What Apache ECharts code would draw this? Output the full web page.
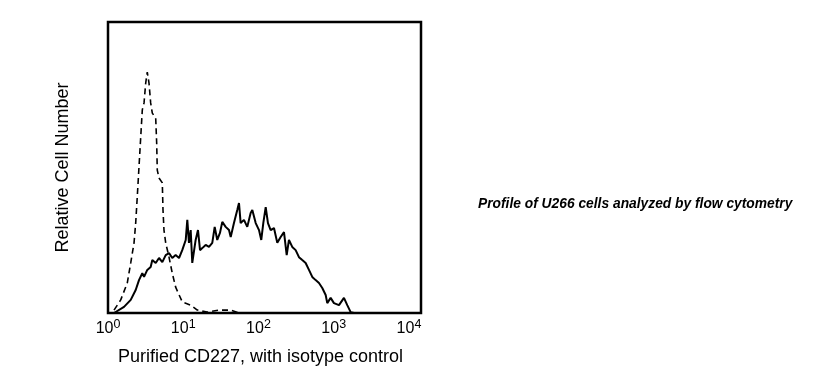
<!DOCTYPE html>
<html>
<head>
<meta charset="utf-8">
<script src="https://cdn.jsdelivr.net/npm/echarts@6/dist/echarts.min.js"></script>
<style>html,body{margin:0;padding:0;background:#fff;}#c{width:831px;height:382px;}</style>
</head>
<body>
<div id="c"></div>
<script>
// x values are log10 of fluorescence intensity; y = relative cell number
var isoX = [0.08,0.169,0.256,0.302,0.346,0.368,0.389,0.412,0.435,0.456,0.479,0.501,0.522,0.545,0.567,0.589,0.634,0.647,0.655,0.678,0.722,0.731,0.744,0.767,0.811,0.854,0.899,0.987,1.099,1.187,1.316,1.475,1.631,1.74];
var isoY = [1.0,4.5,10.3,17.2,24.1,30.9,39.9,50.2,60.5,69.8,72.2,79.0,82.8,79.0,72.2,68.7,67.0,58.4,49.1,46.4,44.7,35.4,28.5,24.1,19.2,13.7,8.9,3.8,2.7,1.0,0.3,1.0,1.0,0];
var cdX = [0.08,0.213,0.302,0.368,0.412,0.456,0.479,0.522,0.567,0.589,0.634,0.678,0.722,0.767,0.811,0.854,0.899,0.944,0.987,1.033,1.054,1.076,1.099,1.120,1.165,1.196,1.223,1.253,1.298,1.342,1.386,1.418,1.452,1.488,1.519,1.564,1.608,1.631,1.674,1.718,1.741,1.763,1.807,1.851,1.896,1.918,1.963,2.007,2.037,2.064,2.096,2.126,2.162,2.206,2.250,2.295,2.339,2.375,2.405,2.449,2.494,2.538,2.582,2.627,2.671,2.715,2.760,2.804,2.848,2.893,2.914,2.959,3.003,3.070,3.136,3.180,3.225,3.269];
var cdY = [0,2.1,4.5,7.9,11.3,13.7,12.4,14.8,15.8,18.2,17.2,18.9,17.5,19.9,20.6,18.9,19.9,18.9,21.6,25.1,32.0,24.1,28.5,17.2,25.1,28.5,21.6,22.3,23.4,22.7,24.1,29.6,25.1,27.5,31.3,29.6,28.5,26.1,30.9,35.4,37.8,30.9,32.0,29.6,34.4,35.4,30.9,28.5,25.1,30.9,36.4,30.9,28.5,29.2,24.1,26.1,27.8,19.9,25.1,22.7,21.6,19.2,18.2,17.2,14.8,12.4,11.3,10.3,8.6,6.2,3.4,5.2,3.4,2.7,5.2,2.7,0.3,0];
var tickExponents = [0,1,2,3,4];

function pairs(xs, ys){ return xs.map(function(x,i){ return [x, ys[i]]; }); }

var chart = echarts.init(document.getElementById('c'), null, {renderer:'canvas'});
chart.setOption({
  animation:false,
  backgroundColor:'#fff',
  grid:{left:108, right:410, top:22, bottom:69, show:true, borderColor:'#000', borderWidth:2.5, backgroundColor:'transparent'},
  xAxis:{
    type:'value', min:0, max:4.16, interval:1,
    axisLine:{show:false}, axisTick:{show:false}, splitLine:{show:false},
    axisLabel:{
      margin:5,
      formatter:function(v){
        var r = Math.round(v);
        if (Math.abs(v-r)>1e-6 || tickExponents.indexOf(r)<0) return '';
        return '{b|10}{s|'+r+'}';
      },
      rich:{
        b:{fontFamily:'Liberation Sans, Arial', fontSize:16, color:'#000'},
        s:{fontFamily:'Liberation Sans, Arial', fontSize:12.5, color:'#000', padding:[0,0,8,0]}
      }
    },
    name:'Purified CD227, with isotype control', nameLocation:'middle', nameGap:35,
    nameTextStyle:{fontFamily:'Liberation Sans, Arial', fontSize:18, color:'#000', padding:[0,8,0,0]}
  },
  yAxis:{
    type:'value', min:0, max:100,
    axisLine:{show:false}, axisTick:{show:false}, splitLine:{show:false}, axisLabel:{show:false},
    name:'Relative Cell Number', nameLocation:'middle', nameGap:36,
    nameTextStyle:{fontFamily:'Liberation Sans, Arial', fontSize:18, color:'#000'}
  },
  graphic:[{
    type:'text', left:478, top:197,
    style:{text:'Profile of U266 cells analyzed by flow cytometry', fontFamily:'Liberation Sans, Arial', fontSize:13.8, fontWeight:'bold', fontStyle:'italic', fill:'#000'}
  }],
  series:[
    {type:'line', name:'Isotype control', data:pairs(isoX,isoY), showSymbol:false, symbol:'none',
     lineStyle:{color:'#000', width:1.6, type:[6,4]}},
    {type:'line', name:'Purified CD227', data:pairs(cdX,cdY), showSymbol:false, symbol:'none',
     lineStyle:{color:'#000', width:2}}
  ]
});
</script>
</body>
</html>
